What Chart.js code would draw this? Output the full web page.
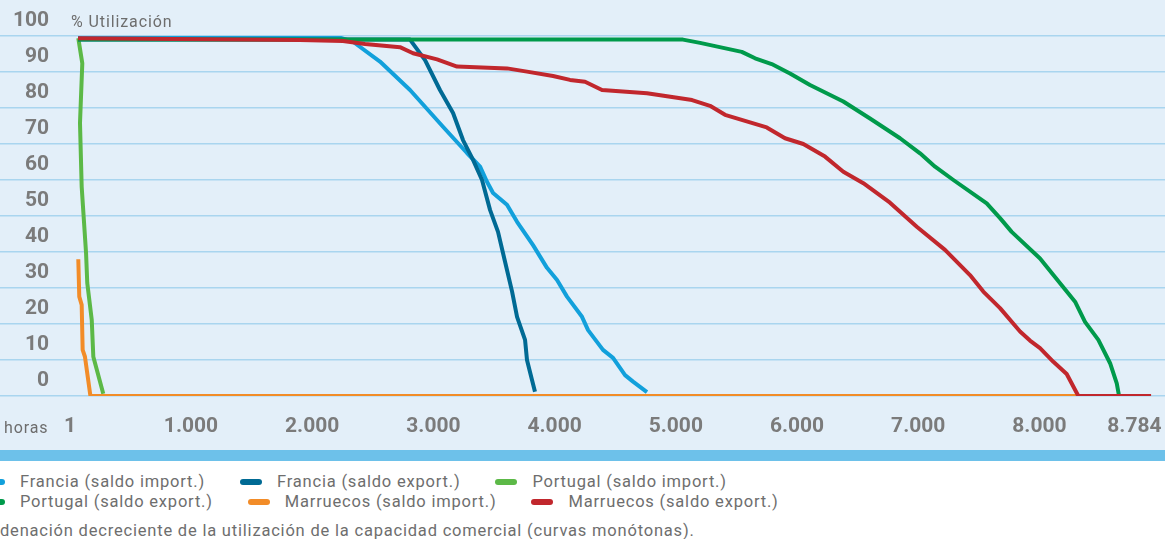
<!DOCTYPE html>
<html lang="es">
<head>
<meta charset="utf-8">
<script src="https://cdn.jsdelivr.net/npm/chart.js@4.4.1/dist/chart.umd.min.js"></script>
<style>
  html, body { margin: 0; padding: 0; }
  body { width: 1165px; height: 539px; overflow: hidden; background: #ffffff; position: relative; font-family: Roboto, "Noto Sans", sans-serif; }
  #plot { position: absolute; left: 0; top: 0; width: 1165px; height: 450px; background: #e3eff9; }
  #c { position: absolute; left: 0; top: 0; }
  .axlbl { position: absolute; font-size: 16px; line-height: 16px; color: #6d6d6d; letter-spacing: 0.9px; white-space: nowrap; }
  #stripe { position: absolute; left: 0; top: 450px; width: 1165px; height: 11px; background: #6dc1ea; }
  .row { position: absolute; left: -17px; height: 20px; display: flex; align-items: center; white-space: nowrap; font-size: 16.5px; line-height: 20px; color: #6e6e6e; letter-spacing: 0.8px; }
  .item { display: flex; align-items: center; margin-right: 35px; }
  .mk { width: 22px; height: 6px; border-radius: 3px; margin-right: 15px; }
  #note { position: absolute; left: 0; top: 521px; font-size: 16.5px; line-height: 20px; color: #6e6e6e; letter-spacing: 0.8px; white-space: nowrap; }
</style>
</head>
<body>
<div id="plot">
  <canvas id="c" width="1165" height="450"></canvas>
  <div class="axlbl" style="left:71px; top:14px;">% Utilización</div>
  <div class="axlbl" style="left:4px; top:420px;">horas</div>
</div>
<div id="stripe"></div>
<div class="row" id="row1" style="top:472px;"></div>
<div class="row" id="row2" style="top:492px;"></div>
<div id="note">denación decreciente de la utilización de la capacidad comercial (curvas monótonas).</div>
<script>
// ---- Data (hours of the year vs % utilisation) ----
const seriesNames = [
  'Francia (saldo import.)', 'Francia (saldo export.)', 'Portugal (saldo import.)',
  'Portugal (saldo export.)', 'Marruecos (saldo import.)', 'Marruecos (saldo export.)'
];

const franciaImportHoras = [68, 2205, 2337, 2559, 2807, 3079, 3277, 3385, 3442, 3492, 3607, 3690, 3822, 3937, 4020, 4102, 4226, 4276, 4399, 4482, 4581, 4647, 4762];
const franciaImportPct   = [99.8, 99.8, 98.4, 92.9, 85.0, 74.8, 67.5, 63.7, 59.5, 56.4, 53.1, 48.4, 41.9, 35.6, 32.2, 27.6, 22.0, 18.3, 12.8, 10.6, 5.8, 4.0, 1.1];

const franciaExportHoras = [68, 2807, 2931, 3054, 3162, 3244, 3327, 3401, 3467, 3533, 3591, 3649, 3690, 3756, 3772, 3814, 3838];
const franciaExportPct   = [99.0, 99.0, 93.3, 85.0, 78.6, 71.1, 65.6, 60.0, 51.7, 45.6, 37.3, 29.0, 22.0, 15.6, 10.0, 4.4, 1.2];

const portugalImportHoras = [70, 103, 84, 98, 134, 144, 181, 194, 276];
const portugalImportPct   = [99.4, 92.4, 75.8, 58.1, 39.7, 31.4, 21.1, 10.9, 0.6];

const portugalExportHoras = [68, 5059, 5200, 5544, 5654, 5791, 5942, 6107, 6382, 6602, 6850, 7015, 7139, 7290, 7565, 7675, 7771, 8005, 8115, 8294, 8376, 8486, 8583, 8638, 8657];
const portugalExportPct   = [99.0, 99.0, 98.1, 95.6, 93.8, 92.2, 89.6, 86.4, 81.8, 77.1, 71.6, 67.4, 63.7, 60.0, 53.5, 49.4, 45.6, 38.2, 33.6, 26.2, 20.6, 15.6, 9.1, 3.5, 0];

const marruecosImportHoras = [70, 78, 98, 106, 125, 170, 8921];
const marruecosImportPct   = [38.0, 27.6, 25.3, 12.8, 10.9, 0, 0];

const marruecosExportHoras = [68, 1899, 2254, 2436, 2724, 2832, 3030, 3195, 3607, 3772, 3987, 4127, 4251, 4391, 4762, 5134, 5282, 5406, 5750, 5901, 6052, 6231, 6382, 6547, 6767, 6988, 7221, 7427, 7537, 7675, 7840, 7922, 8005, 8115, 8225, 8321, 8921];
const marruecosExportPct   = [99.4, 98.9, 98.6, 97.8, 96.9, 95.2, 93.5, 91.5, 91.0, 90.1, 88.9, 87.8, 87.3, 85.0, 84.1, 82.2, 80.6, 78.1, 74.6, 71.6, 70.0, 66.5, 62.3, 59.1, 53.7, 47.0, 40.6, 33.6, 29.0, 24.4, 17.9, 15.4, 13.3, 9.5, 6.1, 0, 0];

const xTickValues = [1, 1000, 2000, 3000, 4000, 5000, 6000, 7000, 8000, 8784];
const xTickLabels = ['1', '1.000', '2.000', '3.000', '4.000', '5.000', '6.000', '7.000', '8.000', '8.784'];
const yTickValues = [0, 10, 20, 30, 40, 50, 60, 70, 80, 90, 100];

// ---- Styling ----
const seriesColors = ['#12a0db', '#006a94', '#5cb947', '#009a4b', '#f28c28', '#c1272d'];
const seriesOrder  = [5, 4, 6, 3, 2, 1];   // higher = drawn first (underneath)

const seriesX = [franciaImportHoras, franciaExportHoras, portugalImportHoras, portugalExportHoras, marruecosImportHoras, marruecosExportHoras];
const seriesY = [franciaImportPct, franciaExportPct, portugalImportPct, portugalExportPct, marruecosImportPct, marruecosExportPct];

const datasets = seriesNames.map((name, i) => ({
  label: name,
  data: seriesX[i].map((h, k) => ({ x: h, y: seriesY[i][k] })),
  borderColor: seriesColors[i],
  backgroundColor: seriesColors[i],
  borderWidth: 4,
  pointRadius: 0,
  fill: false,
  tension: 0,
  order: seriesOrder[i],
  borderJoinStyle: 'round'
}));

const tickFont = { family: 'Roboto', weight: 'bold', size: 21 };

new Chart(document.getElementById('c'), {
  type: 'line',
  data: { datasets },
  options: {
    responsive: false,
    animation: false,
    devicePixelRatio: 1,
    layout: { autoPadding: false, padding: { top: 36, left: 0, right: 0, bottom: 0 } },
    plugins: { legend: { display: false }, tooltip: { enabled: false } },
    scales: {
      x: {
        type: 'linear',
        min: -576,
        max: 9036,
        grid: { display: false, drawTicks: false },
        border: { display: false },
        afterBuildTicks: s => { s.ticks = xTickValues.map(v => ({ value: v })); },
        afterFit: s => { s.height = 54; s.paddingLeft = 0; s.paddingRight = 0; },
        ticks: {
          autoSkip: false, maxRotation: 0, padding: 18,
          font: tickFont, color: '#7b7b7b',
          callback: (v, i) => xTickLabels[i]
        }
      },
      y: {
        min: 0,
        max: 100,
        grid: { color: '#a9d5ef', lineWidth: 1.5, drawTicks: false },
        border: { display: false },
        afterBuildTicks: s => { s.ticks = yTickValues.map(v => ({ value: v })); },
        afterFit: s => { s.width = 0; s.paddingTop = 0; s.paddingBottom = 0; },
        ticks: {
          mirror: true, crossAlign: 'far', padding: 13, labelOffset: -15,
          font: tickFont, color: '#7b7b7b',
          callback: v => String(v)
        }
      }
    }
  }
});

// ---- HTML legend built from the series names/colours ----
const rows = [document.getElementById('row1'), document.getElementById('row2')];
seriesNames.forEach((name, i) => {
  const it = document.createElement('div');
  it.className = 'item';
  const mk = document.createElement('span');
  mk.className = 'mk';
  mk.style.background = seriesColors[i];
  const tx = document.createElement('span');
  tx.textContent = name;
  it.appendChild(mk);
  it.appendChild(tx);
  rows[i < 3 ? 0 : 1].appendChild(it);
});
</script>
</body>
</html>
